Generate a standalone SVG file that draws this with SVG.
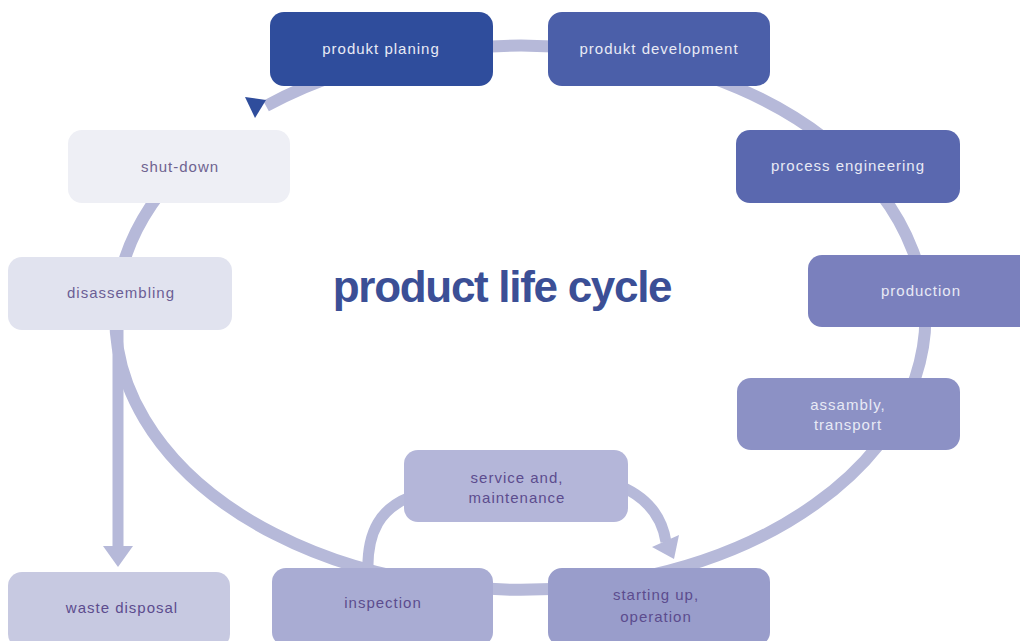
<svg xmlns="http://www.w3.org/2000/svg" width="1020" height="641" viewBox="0 0 1020 641">
  <style>
    .node rect { rx: 14px; ry: 14px; }
    .lbl { font-family: "Liberation Sans", Arial, sans-serif; font-size: 15px; letter-spacing: 1px; text-anchor: middle; }
    .light { fill: #e8eaf5; }
    .dark { fill: #5c4c8e; }
    .band { fill: none; stroke: #b6b9d9; stroke-width: 12; }
    .head { fill: #b6b9d9; }
    .title { font-family: "Liberation Sans", Arial, sans-serif; font-size: 44px; font-weight: bold; letter-spacing: -1.3px; fill: #3b4f96; text-anchor: middle; }
  </style>
  <rect width="1020" height="641" fill="#ffffff"/>

  <g id="connectors">
    <!-- main ring, open between the top-left arrowhead and shut-down -->
    <path class="band" d="M 190.3 160 A 405 272 0 1 0 266 106"/>
    <polygon points="245,97 266,100 255,118" fill="#2f4d9c"/>
    <!-- disassembling to waste disposal -->
    <line class="band" x1="118" y1="325" x2="118" y2="548" style="stroke-width:11"/>
    <polygon class="head" points="103,546 133,546 118,567"/>
    <!-- inspection up to service -->
    <path class="band" d="M 368 575 C 366 530 382 508 410 497" style="stroke-width:11"/>
    <!-- service down to starting up -->
    <path class="band" d="M 620 486 Q 660 503 666 542" style="stroke-width:11"/>
    <polygon class="head" points="652,547 679,535 674,559"/>
  </g>

  <g id="produkt-planing" class="node">
    <rect x="270" y="12" width="223" height="74" fill="#2f4d9c"/>
    <text class="lbl light" x="381" y="54">produkt planing</text>
  </g>
  <g id="produkt-development" class="node">
    <rect x="548" y="12" width="222" height="74" fill="#4b5fa9"/>
    <text class="lbl light" x="659" y="54">produkt development</text>
  </g>
  <g id="process-engineering" class="node">
    <rect x="736" y="130" width="224" height="73" fill="#5a68af"/>
    <text class="lbl light" x="848" y="171">process engineering</text>
  </g>
  <g id="production" class="node">
    <rect x="808" y="255" width="230" height="72" fill="#7a80bd"/>
    <text class="lbl light" x="921" y="296">production</text>
  </g>
  <g id="assambly-transport" class="node">
    <rect x="737" y="378" width="223" height="72" fill="#8c91c5"/>
    <text class="lbl light" x="848" y="410">assambly,</text>
    <text class="lbl light" x="848" y="430">transport</text>
  </g>
  <g id="starting-up" class="node">
    <rect x="548" y="568" width="222" height="78" fill="#999dcb"/>
    <text class="lbl dark" x="656" y="600">starting up,</text>
    <text class="lbl dark" x="656" y="622">operation</text>
  </g>
  <g id="inspection" class="node">
    <rect x="272" y="568" width="221" height="78" fill="#a9acd3"/>
    <text class="lbl dark" x="383" y="608">inspection</text>
  </g>
  <g id="service-maintenance" class="node">
    <rect x="404" y="450" width="224" height="72" fill="#b4b6d9"/>
    <text class="lbl dark" x="517" y="483">service and,</text>
    <text class="lbl dark" x="517" y="503">maintenance</text>
  </g>
  <g id="waste-disposal" class="node">
    <rect x="8" y="572" width="222" height="76" fill="#c7c9e1"/>
    <text class="lbl dark" x="122" y="613">waste disposal</text>
  </g>
  <g id="disassembling" class="node">
    <rect x="8" y="257" width="224" height="73" fill="#e1e3ef"/>
    <text class="lbl dark" x="121" y="298" style="fill:#6b5e95">disassembling</text>
  </g>
  <g id="shut-down" class="node">
    <rect x="68" y="130" width="222" height="73" fill="#eeeff5"/>
    <text class="lbl dark" x="180" y="172" style="fill:#6f6390">shut-down</text>
  </g>

  <text class="title" x="502" y="302">product life cycle</text>
</svg>
